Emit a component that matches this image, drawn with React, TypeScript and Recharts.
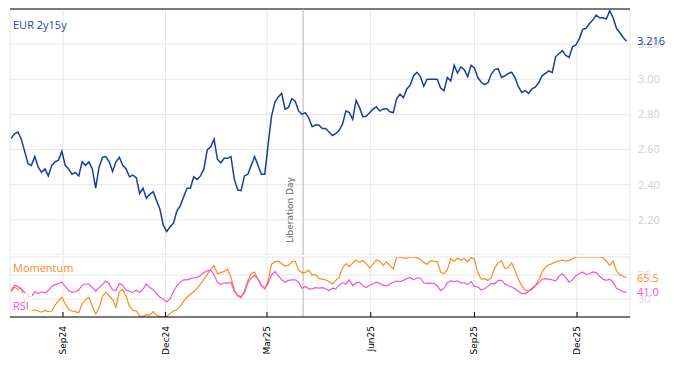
import { CartesianGrid, Line, LineChart, ReferenceLine, XAxis, YAxis } from "recharts";

const DAY = 86400000;

// sampled every 3 calendar days from the first date
const firstDate = "2024-07-17";
const stepDays = 3;

const price = [
  2.664, 2.69, 2.7, 2.66, 2.59, 2.52, 2.51, 2.56, 2.5, 2.47,
  2.49, 2.45, 2.51, 2.53, 2.54, 2.59, 2.51, 2.49, 2.46, 2.47,
  2.45, 2.53, 2.51, 2.53, 2.49, 2.38, 2.5, 2.555, 2.56, 2.53,
  2.475, 2.53, 2.556, 2.51, 2.49, 2.445, 2.455, 2.44, 2.35, 2.38,
  2.323, 2.345, 2.36, 2.31, 2.26, 2.17, 2.133, 2.161, 2.18, 2.25,
  2.28, 2.33, 2.38, 2.38, 2.445, 2.43, 2.45, 2.49, 2.6, 2.615,
  2.66, 2.545, 2.525, 2.55, 2.55, 2.56, 2.43, 2.37, 2.366, 2.45,
  2.46, 2.51, 2.56, 2.51, 2.46, 2.46, 2.63, 2.79, 2.87, 2.9,
  2.92, 2.83, 2.84, 2.89, 2.875, 2.82, 2.8, 2.81, 2.78, 2.73,
  2.74, 2.74, 2.72, 2.72, 2.7, 2.68, 2.69, 2.71, 2.745, 2.82,
  2.81, 2.772, 2.88, 2.84, 2.787, 2.79, 2.81, 2.83, 2.843, 2.82,
  2.83, 2.834, 2.815, 2.81, 2.89, 2.915, 2.895, 2.945, 2.966, 3.02,
  3.04, 3.017, 2.96, 3.0, 3.0, 3.0, 3.0, 2.95, 2.935, 3.01,
  2.99, 3.08, 3.035, 3.07, 3.055, 3.015, 3.08, 3.065, 3.01, 2.983,
  2.97, 2.98, 3.03, 3.055, 3.06, 3.01, 3.02, 3.033, 3.04, 3.01,
  2.958, 2.925, 2.935, 2.92, 2.945, 2.955, 2.98, 3.02, 3.034, 3.048,
  3.038, 3.128, 3.145, 3.163, 3.136, 3.125, 3.185, 3.195, 3.23, 3.284,
  3.29, 3.317, 3.337, 3.365, 3.35, 3.35, 3.343, 3.39, 3.35, 3.29,
  3.265, 3.238, 3.216,
];

const momentum = [
  42, 50, 46, 48, 28, 14, 10, 12, 10, 8,
  11, 9, 10, 20, 27, 33, 22, 13, 10, 9,
  7, 22, 29, 33, 18, 5, 15, 35, 41, 35,
  29, 16, 42, 46, 34, 18, 11, 10, 2, 1,
  4, 3, 9, 3, 1, 0.5, 0.5, 6, 10, 12,
  18, 26, 33, 38, 42, 48, 55, 63, 71, 79,
  86, 72, 74, 76, 80, 66, 45, 35, 32, 44,
  61, 72, 75, 62, 52, 47, 60, 88, 92, 93,
  89, 85, 86, 92, 93, 78, 74, 74, 78, 70,
  71, 64, 63, 62, 59, 55, 61, 66, 82, 89,
  84, 90, 95, 91, 94, 89, 82, 88, 95, 93,
  86, 92, 86, 80, 100, 100, 98, 98, 100, 100,
  99, 96, 91, 88, 94, 93, 92, 75, 72, 79,
  97, 93, 98, 95, 97, 92, 99, 96, 74, 63,
  64, 61, 66, 82, 90, 94, 81, 82, 90, 78,
  63, 52, 45, 43, 46, 52, 62, 75, 83, 87,
  89, 92, 93, 95, 93, 94, 97, 100, 100, 100,
  100, 100, 100, 100, 100, 99, 93, 86, 93, 77,
  70, 68, 65.5,
];

const rsi = [
  44, 53, 51, 47, 41, 35, 34, 42, 39, 42,
  40, 44, 51, 54, 56, 58, 51, 44, 41, 42,
  45, 53, 55, 55, 49, 43, 49, 54, 60, 55,
  45, 44, 56, 53, 45, 43, 41, 45, 41, 46,
  55, 49, 46, 39, 33, 30, 25, 30, 42, 52,
  58, 62, 62, 64, 65, 66, 69, 74, 77, 78,
  70, 58, 54, 57, 56, 58, 42, 36, 34, 40,
  57, 65, 69, 64, 53, 47, 56, 70, 76, 69,
  62, 58, 61, 62, 62, 58, 48, 51, 47, 47,
  49, 48, 49, 47, 44, 48, 47, 53, 57, 55,
  62, 52, 57, 58, 52, 49, 53, 55, 58, 56,
  53, 52, 55, 58, 60, 59, 61, 64, 66, 62,
  65, 65, 57, 56, 56, 56, 52, 44, 48, 57,
  60, 59, 60, 57, 57, 54, 59, 51, 50, 45,
  47, 51, 56, 55, 61, 61, 55, 52, 50, 47,
  43, 39, 39, 43, 48, 52, 57, 63, 64, 63,
  62, 60, 68, 72, 66, 58, 62, 69, 72, 75,
  71, 72, 75, 74, 68, 63, 61, 63, 58, 48,
  45, 42, 41.0,
];

const tickDates = ["2024-09-01", "2024-12-01", "2025-03-01", "2025-06-01", "2025-09-01", "2025-12-01"];
const tickLabels = ["Sep24", "Dec24", "Mar25", "Jun25", "Sep25", "Dec25"];
const xRange = ["2024-07-16", "2026-01-17"];
const eventDate = "2025-04-02";
const eventLabel = "Liberation Day";
const priceTicks = [2.2, 2.4, 2.6, 2.8, 3.0, 3.2];
const oscTicks = [30, 70];

const toTime = (d: string) => new Date(d + "T00:00:00Z").getTime();
const start = toTime(firstDate);
const rows = price.map((p, i) => ({
  t: start + i * stepDays * DAY,
  price: p,
  momentum: momentum[i],
  rsi: rsi[i],
}));
const tickTimes = tickDates.map(toTime);
const domain = xRange.map(toTime);
const eventTime = toTime(eventDate);

const BLUE = "#1b3d9e";
const ORANGE = "#ff8a1c";
const PINK = "#f451d6";
const GRID = "#e6e6e6";
const SANS = "Open Sans";

function AxisTick(props: any) {
  const { x, y, payload, showLabel } = props;
  const label = tickLabels[tickTimes.indexOf(payload.value)];
  const tx = x + 3;
  const ty = y + 9;
  return (
    <g>
      <line x1={x} x2={x} y1={y} y2={y - 5} stroke="#000" />
      {showLabel ? (
        <text x={tx} y={ty} transform={`rotate(-90 ${tx} ${ty})`} textAnchor="end" fontSize={9} fontFamily="DejaVu Sans" fill="#000">
          {label}
        </text>
      ) : null}
    </g>
  );
}

function EventLabel(props: any) {
  const vb = props.viewBox;
  if (!vb) return null;
  const x = vb.x - 10;
  const y = vb.y + vb.height - 12;
  return (
    <text x={x} y={y} transform={`rotate(-90 ${x} ${y})`} fontSize={9} fontFamily="DejaVu Sans" fill="#666">
      {eventLabel}
    </text>
  );
}

export default function App() {
  const lastPrice = price[price.length - 1];
  const lastMom = momentum[momentum.length - 1];
  const lastRsi = rsi[rsi.length - 1];

  return (
    <div style={{ position: "absolute", left: 0, top: 0, width: 674, height: 366, background: "#fff", fontFamily: SANS }}>
      <div style={{ position: "absolute", left: 0, top: 0 }}>
        <LineChart width={674} height={255} data={rows} margin={{ top: 9, right: 0, left: 10, bottom: 0 }}>
          <CartesianGrid stroke={GRID} />
          <XAxis
            dataKey="t"
            type="number"
            domain={domain}
            ticks={tickTimes}
            interval={0}
            height={0}
            tickSize={0}
            tickMargin={0}
            tickLine={false}
            axisLine={{ stroke: "#000" }}
            tick={(p: any) => <AxisTick {...p} />}
            allowDataOverflow
          />
          <YAxis
            orientation="right"
            width={44}
            domain={[2.0, 3.4]}
            ticks={priceTicks}
            axisLine={false}
            tickLine={false}
            tick={{ fill: "#cfcfcf", fontSize: 11, fontFamily: SANS }}
            tickFormatter={(v: number) => v.toFixed(2)}
            allowDataOverflow
          />
          <ReferenceLine y={3.4} stroke="#000" />
          <ReferenceLine x={eventTime} stroke="#b4b4b4" label={<EventLabel />} />
          <ReferenceLine
            y={lastPrice}
            stroke="none"
            label={{ value: lastPrice.toFixed(3), position: "right", offset: 7, fill: BLUE, fontSize: 11, fontFamily: SANS }}
          />
          <Line dataKey="price" stroke={BLUE} strokeWidth={1.5} dot={false} isAnimationActive={false} />
        </LineChart>
      </div>
      <div style={{ position: "absolute", left: 0, top: 255 }}>
        <LineChart width={674} height={111} data={rows} margin={{ top: 2, right: 0, left: 10, bottom: 0 }}>
          <CartesianGrid stroke={GRID} />
          <XAxis
            dataKey="t"
            type="number"
            domain={domain}
            ticks={tickTimes}
            interval={0}
            height={49}
            tickSize={0}
            tickMargin={0}
            tickLine={false}
            axisLine={{ stroke: "#000" }}
            tick={(p: any) => <AxisTick {...p} showLabel />}
            allowDataOverflow
          />
          <YAxis
            orientation="right"
            width={44}
            domain={[0, 100]}
            ticks={oscTicks}
            axisLine={false}
            tickLine={false}
            tick={{ fill: "#dadada", fontSize: 11, fontFamily: SANS }}
            allowDataOverflow
          />
          <ReferenceLine x={eventTime} stroke="#b4b4b4" />
          <ReferenceLine
            y={lastMom}
            stroke="none"
            label={{ value: lastMom.toFixed(1), position: "right", offset: 7, fill: ORANGE, fontSize: 11, fontFamily: SANS }}
          />
          <ReferenceLine
            y={lastRsi}
            stroke="none"
            label={{ value: lastRsi.toFixed(1), position: "right", offset: 7, fill: PINK, fontSize: 11, fontFamily: SANS }}
          />
          <Line dataKey="momentum" stroke={ORANGE} strokeWidth={1.2} dot={false} isAnimationActive={false} />
          <Line dataKey="rsi" stroke={PINK} strokeWidth={1.2} dot={false} isAnimationActive={false} />
        </LineChart>
      </div>
      <div style={{ position: "absolute", left: 13, top: 18, fontSize: 11, lineHeight: "13px", color: "#2448a8" }}>EUR 2y15y</div>
      <div style={{ position: "absolute", left: 13, top: 261, fontSize: 11, lineHeight: "13px", color: ORANGE }}>Momentum</div>
      <div
        style={{
          position: "absolute",
          left: 11,
          top: 293,
          padding: "6px 3px 1px 2px",
          fontSize: 11,
          lineHeight: "13px",
          color: PINK,
          background: "rgba(255,255,255,0.75)",
        }}
      >
        RSI
      </div>
    </div>
  );
}
